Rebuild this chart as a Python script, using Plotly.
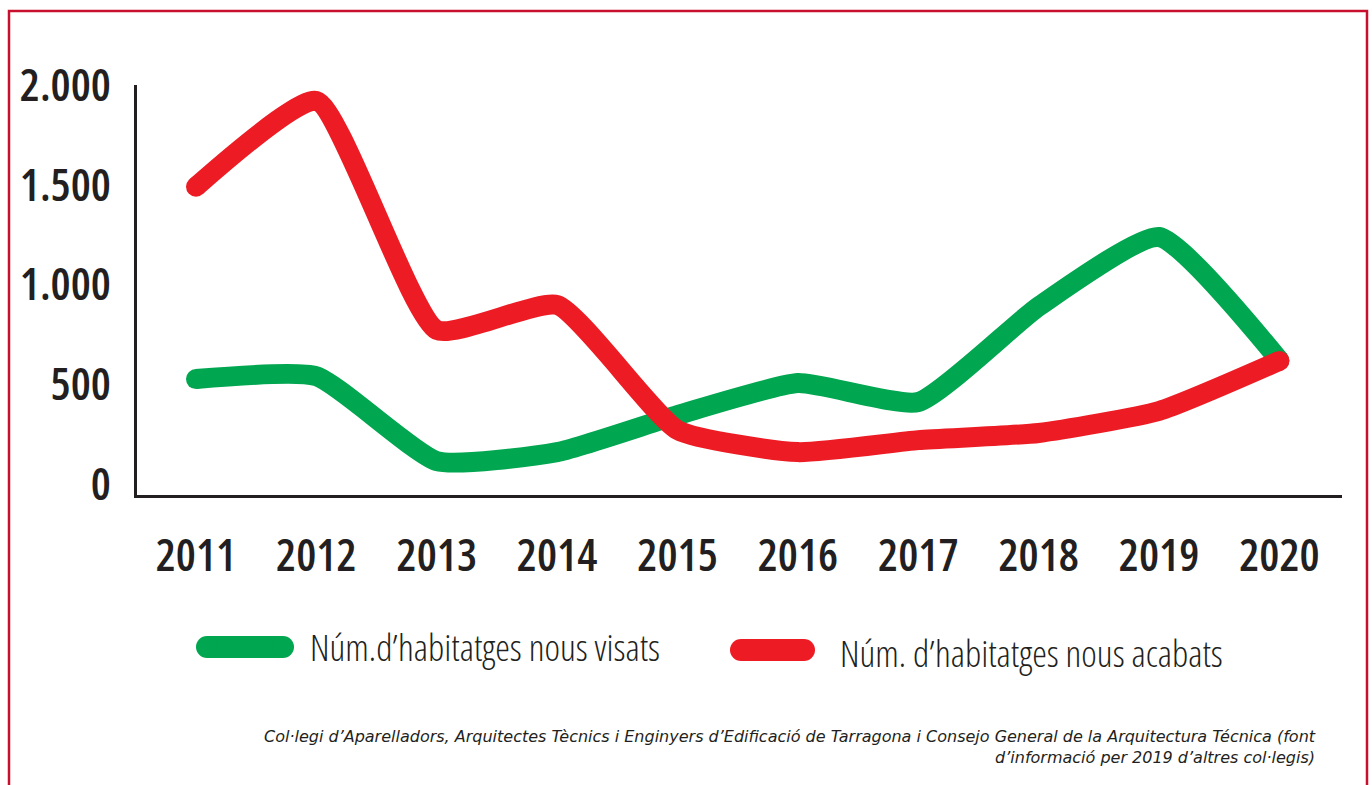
import plotly.graph_objects as go

years = ["2011", "2012", "2013", "2014", "2015", "2016", "2017", "2018", "2019", "2020"]
visats = [526, 540, 115, 160, 346, 506, 411, 890, 1238, 620]
acabats = [1490, 1920, 772, 897, 271, 160, 220, 256, 366, 617]
y_ticks = [0, 500, 1000, 1500, 2000]
y_tick_text = ["0", "500", "1.000", "1.500", "2.000"]
name_visats = "Núm.d\u2019habitatges nous visats"
name_acabats = "Núm. d\u2019habitatges nous acabats"
source_text = ("Col\u00b7legi d\u2019Aparelladors, Arquitectes Tècnics i Enginyers d\u2019Edificació de Tarragona i "
               "Consejo General de la Arquitectura Técnica (font<br>d\u2019informació per 2019 d\u2019altres col\u00b7legis)")

W, H = 1372, 785
L, R, T, B = 137, 1342, 85, 495

def px(x):
    return (x - L) / (R - L)

def py(y):
    return (B - y) / (B - T)

GREEN = "#00a650"
RED = "#ed1c24"
DARK = "#231f20"
TICKF = "Open Sans, sans-serif"
LEG = "Open Sans, sans-serif"

def cap_sizes(n, s):
    return [s] + [0] * (n - 2) + [s]

LW = 20
fig = go.Figure()
fig.add_trace(go.Scatter(
    x=years, y=visats, mode="lines+markers", name=name_visats,
    line=dict(color=GREEN, width=LW, shape="spline", smoothing=0.5),
    marker=dict(color=GREEN, size=cap_sizes(len(visats), LW), opacity=1, line=dict(width=0)),
    showlegend=False, hoverinfo="x+y"))
fig.add_trace(go.Scatter(
    x=years, y=acabats, mode="lines+markers", name=name_acabats,
    line=dict(color=RED, width=LW, shape="spline", smoothing=0.5),
    marker=dict(color=RED, size=cap_sizes(len(acabats), LW), opacity=1, line=dict(width=0)),
    showlegend=False, hoverinfo="x+y"))

def pill(x0, x1, yc, color, h=22):
    r = h / 2
    out = [dict(type="line", xref="paper", yref="paper", x0=px(x0 + r), x1=px(x1 - r),
                y0=py(yc), y1=py(yc), line=dict(color=color, width=h))]
    for cx in (x0 + r, x1 - r):
        out.append(dict(type="circle", xref="paper", yref="paper",
                        x0=px(cx - r), x1=px(cx + r), y0=py(yc + r), y1=py(yc - r),
                        fillcolor=color, line=dict(width=0)))
    return out

border = dict(type="rect", xref="paper", yref="paper",
              x0=px(9), x1=px(1367), y0=py(820), y1=py(11),
              line=dict(color="#c8102e", width=2.5), fillcolor="rgba(0,0,0,0)", layer="below")
shapes = [border] + pill(196, 294, 647, GREEN) + pill(730, 815, 650, RED)

annotations = [
    dict(text=name_visats, xref="paper", yref="paper", x=px(308), y=py(646),
         xanchor="left", yanchor="middle", align="left", showarrow=False,
         font=dict(family=LEG, size=37, weight=300, color=DARK)),
    dict(text=name_acabats, xref="paper", yref="paper", x=px(838), y=py(652),
         xanchor="left", yanchor="middle", align="left", showarrow=False,
         font=dict(family=LEG, size=37, weight=300, color=DARK)),
    dict(text="<i>" + source_text + "</i>", xref="paper", yref="paper", x=px(1318), y=py(725),
         xanchor="right", yanchor="top", align="right", showarrow=False,
         font=dict(family="DejaVu Sans, sans-serif", size=16, color=DARK)),
]

fig.update_layout(
    width=W, height=H,
    margin=dict(l=L, r=W - R, t=T, b=H - B, autoexpand=False),
    paper_bgcolor="white", plot_bgcolor="white",
    shapes=shapes, annotations=annotations,
    showlegend=False,
    xaxis=dict(type="category", range=[-0.49, 9.52], showline=True, linecolor=DARK, linewidth=3,
               showgrid=False, zeroline=False, ticks="",
               tickfont=dict(family=TICKF, size=45, weight=600, color=DARK), ticklabelstandoff=19),
    yaxis=dict(range=[-55, 2000], showline=True, linecolor=DARK, linewidth=3,
               showgrid=False, zeroline=False, ticks="",
               tickvals=y_ticks, ticktext=y_tick_text,
               tickfont=dict(family=TICKF, size=45, weight=600, color=DARK), ticklabelstandoff=14),
)

post = """
document.body.style.margin = '0';
var gd = document.getElementById('{plot_id}');
gd.querySelectorAll('text').forEach(function (t) {
  var ff = t.style.fontFamily || '';
  if (ff.indexOf('Open Sans') >= 0) { t.style.fontStretch = '75%'; }
});
"""

fig.write_html("out.html", post_script=post, config={"displayModeBar": False})
